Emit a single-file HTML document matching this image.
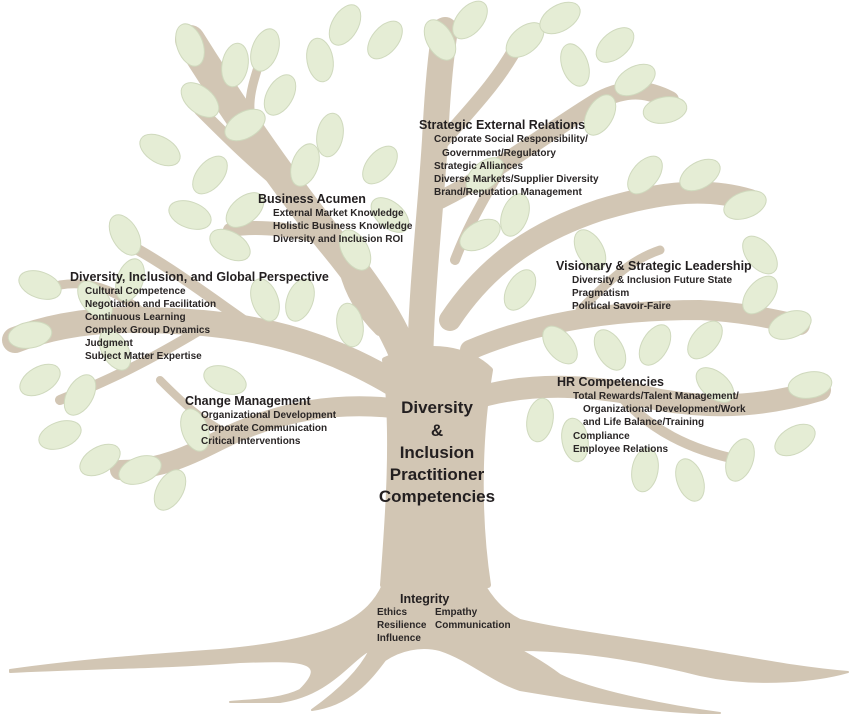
<!DOCTYPE html>
<html><head><meta charset="utf-8"><style>
body{margin:0;background:#fff;width:859px;height:728px;overflow:hidden}
svg{display:block}
.t{font-family:"Liberation Sans",sans-serif;fill:#231f20}
.h{font-weight:bold;font-size:12.5px}
.s{font-size:10px;font-weight:bold;fill:#2a2626}
</style></head><body>
<svg width="859" height="728" viewBox="0 0 859 728">
<g fill="none" stroke="#d2c6b4" stroke-linecap="round" stroke-linejoin="round">
<path d="M385 360 C395 430 388 520 383 585 L488 585 C478 520 478 440 490 370 C470 350 430 340 385 360 Z" fill="#d2c6b4" stroke-width="6"/>
<path d="M385 580 C370 620 330 640 220 650 C150 655 80 660 10 670 L10 672 C90 668 160 668 240 662 C300 660 330 660 300 690 C280 700 250 700 230 702 L280 702 C330 695 350 660 370 650 C360 670 340 690 312 710 C350 705 370 680 385 660 C400 650 420 645 440 650 C470 660 490 680 520 690 C580 700 640 710 700 713 L720 713 C660 705 590 690 560 675 C540 660 520 650 520 650 C580 650 640 660 700 675 C760 688 820 680 848 672 C800 668 760 660 700 650 C640 640 560 630 520 620 C500 610 485 590 480 575 Z" fill="#d2c6b4" stroke-width="2"/>
<path d="M425 420 C410 350 380 300 330 240 C290 190 240 120 190 40" stroke-width="30"/>
<path d="M330 240 C300 230 260 225 230 230" stroke-width="14"/>
<path d="M300 200 C260 170 230 140 200 110" stroke-width="12"/>
<path d="M260 140 C240 110 255 80 260 60" stroke-width="9"/>
<path d="M420 400 C330 340 250 320 130 320 C80 320 40 330 15 340" stroke-width="26"/>
<path d="M250 325 C200 290 160 260 120 240" stroke-width="11"/>
<path d="M150 320 C120 290 90 280 60 285" stroke-width="9"/>
<path d="M200 330 C150 360 110 380 60 400" stroke-width="10"/>
<path d="M410 410 C340 400 280 410 220 440 C190 455 160 470 120 470" stroke-width="20"/>
<path d="M230 435 C200 420 180 400 160 380" stroke-width="8"/>
<path d="M420 380 C420 300 430 220 435 140 C437 100 440 60 445 30" stroke-width="26"/>
<path d="M435 150 C470 110 500 80 520 40" stroke-width="14"/>
<path d="M440 200 C500 170 550 130 600 100 C630 85 650 90 670 100" stroke-width="18"/>
<path d="M450 320 C490 260 540 230 600 210 C650 195 700 185 750 200" stroke-width="22"/>
<path d="M470 350 C540 320 620 310 700 310 C740 312 770 318 800 325" stroke-width="20"/>
<path d="M470 400 C530 380 600 385 660 400 C720 410 770 405 820 390" stroke-width="22"/>
<path d="M620 395 C650 430 690 450 740 460" stroke-width="10"/>
<path d="M580 310 C610 280 630 260 660 250" stroke-width="9"/>
<path d="M380 330 C360 310 350 290 345 270" stroke-width="12"/>
<path d="M455 260 C470 220 490 190 500 170" stroke-width="10"/>
</g>
<g fill="#e5edd5" stroke="#cfd9bd" stroke-width="1">
<g id="L">
<ellipse cx="190" cy="45" rx="13" ry="22" transform="rotate(-20 190 45)"/>
<ellipse cx="235" cy="65" rx="13" ry="22" transform="rotate(10 235 65)"/>
<ellipse cx="265" cy="50" rx="13" ry="22" transform="rotate(20 265 50)"/>
<ellipse cx="200" cy="100" rx="13" ry="22" transform="rotate(-50 200 100)"/>
<ellipse cx="245" cy="125" rx="13" ry="22" transform="rotate(60 245 125)"/>
<ellipse cx="280" cy="95" rx="13" ry="22" transform="rotate(30 280 95)"/>
<ellipse cx="160" cy="150" rx="13" ry="22" transform="rotate(-60 160 150)"/>
<ellipse cx="210" cy="175" rx="13" ry="22" transform="rotate(40 210 175)"/>
<ellipse cx="190" cy="215" rx="13" ry="22" transform="rotate(-70 190 215)"/>
<ellipse cx="125" cy="235" rx="13" ry="22" transform="rotate(-30 125 235)"/>
<ellipse cx="130" cy="280" rx="13" ry="22" transform="rotate(20 130 280)"/>
<ellipse cx="95" cy="300" rx="13" ry="22" transform="rotate(-40 95 300)"/>
<ellipse cx="40" cy="285" rx="13" ry="22" transform="rotate(-70 40 285)"/>
<ellipse cx="30" cy="335" rx="13" ry="22" transform="rotate(80 30 335)"/>
<ellipse cx="40" cy="380" rx="13" ry="22" transform="rotate(60 40 380)"/>
<ellipse cx="80" cy="395" rx="13" ry="22" transform="rotate(30 80 395)"/>
<ellipse cx="60" cy="435" rx="13" ry="22" transform="rotate(70 60 435)"/>
<ellipse cx="115" cy="350" rx="13" ry="22" transform="rotate(-30 115 350)"/>
<ellipse cx="100" cy="460" rx="13" ry="22" transform="rotate(60 100 460)"/>
<ellipse cx="170" cy="490" rx="13" ry="22" transform="rotate(30 170 490)"/>
<ellipse cx="195" cy="430" rx="13" ry="22" transform="rotate(-20 195 430)"/>
<ellipse cx="140" cy="470" rx="13" ry="22" transform="rotate(70 140 470)"/>
<ellipse cx="225" cy="380" rx="13" ry="22" transform="rotate(-70 225 380)"/>
<ellipse cx="265" cy="300" rx="13" ry="22" transform="rotate(-20 265 300)"/>
<ellipse cx="300" cy="300" rx="13" ry="22" transform="rotate(20 300 300)"/>
<ellipse cx="350" cy="325" rx="13" ry="22" transform="rotate(-10 350 325)"/>
<ellipse cx="230" cy="245" rx="13" ry="22" transform="rotate(-60 230 245)"/>
<ellipse cx="245" cy="210" rx="13" ry="22" transform="rotate(50 245 210)"/>
<ellipse cx="305" cy="165" rx="13" ry="22" transform="rotate(20 305 165)"/>
<ellipse cx="330" cy="135" rx="13" ry="22" transform="rotate(10 330 135)"/>
<ellipse cx="320" cy="60" rx="13" ry="22" transform="rotate(-10 320 60)"/>
<ellipse cx="345" cy="25" rx="13" ry="22" transform="rotate(30 345 25)"/>
<ellipse cx="385" cy="40" rx="13" ry="22" transform="rotate(40 385 40)"/>
<ellipse cx="440" cy="40" rx="13" ry="22" transform="rotate(-30 440 40)"/>
<ellipse cx="470" cy="20" rx="13" ry="22" transform="rotate(40 470 20)"/>
<ellipse cx="525" cy="40" rx="13" ry="22" transform="rotate(50 525 40)"/>
<ellipse cx="560" cy="18" rx="13" ry="22" transform="rotate(60 560 18)"/>
<ellipse cx="575" cy="65" rx="13" ry="22" transform="rotate(-20 575 65)"/>
<ellipse cx="615" cy="45" rx="13" ry="22" transform="rotate(50 615 45)"/>
<ellipse cx="635" cy="80" rx="13" ry="22" transform="rotate(60 635 80)"/>
<ellipse cx="665" cy="110" rx="13" ry="22" transform="rotate(80 665 110)"/>
<ellipse cx="600" cy="115" rx="13" ry="22" transform="rotate(30 600 115)"/>
<ellipse cx="380" cy="165" rx="13" ry="22" transform="rotate(40 380 165)"/>
<ellipse cx="390" cy="215" rx="13" ry="22" transform="rotate(-50 390 215)"/>
<ellipse cx="480" cy="235" rx="13" ry="22" transform="rotate(60 480 235)"/>
<ellipse cx="515" cy="215" rx="13" ry="22" transform="rotate(20 515 215)"/>
<ellipse cx="520" cy="290" rx="13" ry="22" transform="rotate(30 520 290)"/>
<ellipse cx="590" cy="250" rx="13" ry="22" transform="rotate(-30 590 250)"/>
<ellipse cx="645" cy="175" rx="13" ry="22" transform="rotate(40 645 175)"/>
<ellipse cx="700" cy="175" rx="13" ry="22" transform="rotate(60 700 175)"/>
<ellipse cx="745" cy="205" rx="13" ry="22" transform="rotate(70 745 205)"/>
<ellipse cx="760" cy="255" rx="13" ry="22" transform="rotate(-40 760 255)"/>
<ellipse cx="790" cy="325" rx="13" ry="22" transform="rotate(70 790 325)"/>
<ellipse cx="760" cy="295" rx="13" ry="22" transform="rotate(40 760 295)"/>
<ellipse cx="810" cy="385" rx="13" ry="22" transform="rotate(80 810 385)"/>
<ellipse cx="795" cy="440" rx="13" ry="22" transform="rotate(60 795 440)"/>
<ellipse cx="740" cy="460" rx="13" ry="22" transform="rotate(20 740 460)"/>
<ellipse cx="690" cy="480" rx="13" ry="22" transform="rotate(-20 690 480)"/>
<ellipse cx="645" cy="470" rx="13" ry="22" transform="rotate(10 645 470)"/>
<ellipse cx="575" cy="440" rx="13" ry="22" transform="rotate(-10 575 440)"/>
<ellipse cx="610" cy="350" rx="13" ry="22" transform="rotate(-30 610 350)"/>
<ellipse cx="655" cy="345" rx="13" ry="22" transform="rotate(30 655 345)"/>
<ellipse cx="705" cy="340" rx="13" ry="22" transform="rotate(40 705 340)"/>
<ellipse cx="715" cy="385" rx="13" ry="22" transform="rotate(-50 715 385)"/>
<ellipse cx="560" cy="345" rx="13" ry="22" transform="rotate(-40 560 345)"/>
<ellipse cx="485" cy="175" rx="13" ry="22" transform="rotate(50 485 175)"/>
<ellipse cx="355" cy="250" rx="13" ry="22" transform="rotate(-30 355 250)"/>
<ellipse cx="540" cy="420" rx="13" ry="22" transform="rotate(10 540 420)"/>
</g>
</g>
<g class="t">
<text class="h" x="419" y="129">Strategic External Relations</text>
<text class="s" x="434" y="142">Corporate Social Responsibility/</text>
<text class="s" x="442" y="156">Government/Regulatory</text>
<text class="s" x="434" y="169">Strategic Alliances</text>
<text class="s" x="434" y="182">Diverse Markets/Supplier Diversity</text>
<text class="s" x="434" y="195">Brand/Reputation Management</text>
<text class="h" x="258" y="203">Business Acumen</text>
<text class="s" x="273" y="216">External Market Knowledge</text>
<text class="s" x="273" y="229">Holistic Business Knowledge</text>
<text class="s" x="273" y="242">Diversity and Inclusion ROI</text>
<text class="h" x="70" y="281">Diversity, Inclusion, and Global Perspective</text>
<text class="s" x="85" y="294">Cultural Competence</text>
<text class="s" x="85" y="307">Negotiation and Facilitation</text>
<text class="s" x="85" y="320">Continuous Learning</text>
<text class="s" x="85" y="333">Complex Group Dynamics</text>
<text class="s" x="85" y="346">Judgment</text>
<text class="s" x="85" y="359">Subject Matter Expertise</text>
<text class="h" x="556" y="270">Visionary &amp; Strategic Leadership</text>
<text class="s" x="572" y="283">Diversity &amp; Inclusion Future State</text>
<text class="s" x="572" y="296">Pragmatism</text>
<text class="s" x="572" y="309">Political Savoir-Faire</text>
<text class="h" x="185" y="405">Change Management</text>
<text class="s" x="201" y="418">Organizational Development</text>
<text class="s" x="201" y="431">Corporate Communication</text>
<text class="s" x="201" y="444">Critical Interventions</text>
<text class="h" x="557" y="386">HR Competencies</text>
<text class="s" x="573" y="399">Total Rewards/Talent Management/</text>
<text class="s" x="583" y="412">Organizational Development/Work</text>
<text class="s" x="583" y="425">and Life Balance/Training</text>
<text class="s" x="573" y="439">Compliance</text>
<text class="s" x="573" y="452">Employee Relations</text>
<g font-weight="bold" font-size="17" text-anchor="middle">
<text x="437" y="413">Diversity</text>
<text x="437" y="436">&amp;</text>
<text x="437" y="458">Inclusion</text>
<text x="437" y="480">Practitioner</text>
<text x="437" y="502">Competencies</text>
</g>
<text class="h" x="400" y="603">Integrity</text>
<text class="s" x="377" y="615">Ethics</text>
<text class="s" x="435" y="615">Empathy</text>
<text class="s" x="377" y="628">Resilience</text>
<text class="s" x="435" y="628">Communication</text>
<text class="s" x="377" y="641">Influence</text>
</g>
</svg>
</body></html>
